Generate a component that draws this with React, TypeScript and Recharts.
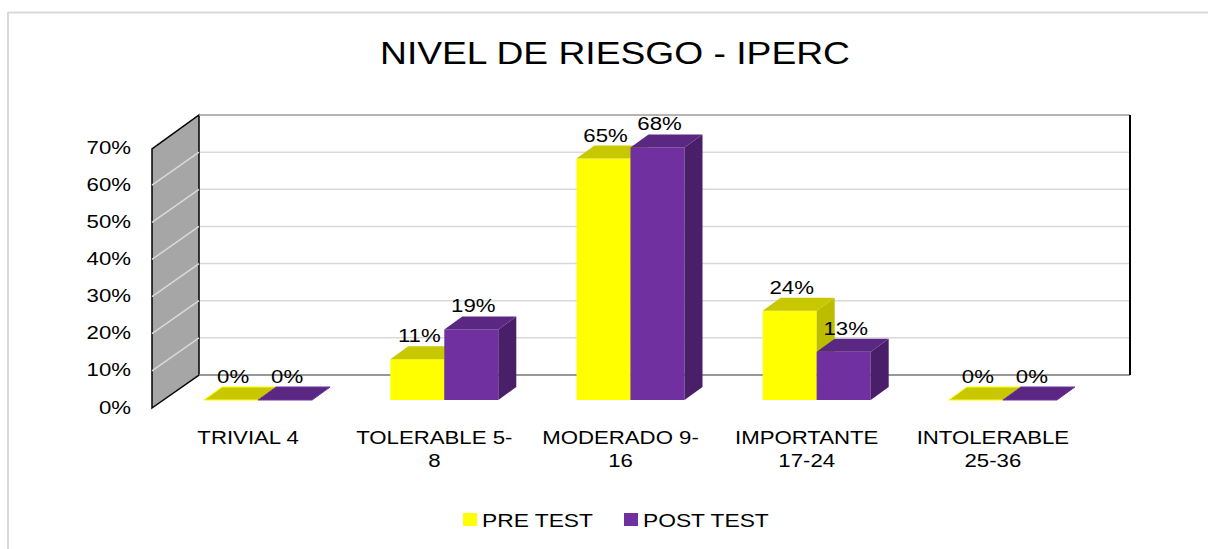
import React from "react";
import { BarChart, Bar, XAxis, YAxis, CartesianGrid, ReferenceArea, Legend } from "recharts";

const categories = ["TRIVIAL 4", "TOLERABLE 5-8", "MODERADO 9-16", "IMPORTANTE 17-24", "INTOLERABLE 25-36"];
const categoryLines = [["TRIVIAL 4"], ["TOLERABLE 5-", "8"], ["MODERADO 9-", "16"], ["IMPORTANTE", "17-24"], ["INTOLERABLE", "25-36"]];
const preTest = [0, 11, 65, 24, 0];
const postTest = [0, 19, 68, 13, 0];
const yTicks = [0, 10, 20, 30, 40, 50, 60, 70];
const seriesNames = ["PRE TEST", "POST TEST"];
const title = "NIVEL DE RIESGO - IPERC";

const data = categories.map((c, i) => ({ name: c, pre: preTest[i], post: postTest[i] }));

const FONT = '"Liberation Sans", Arial, sans-serif';
const SX = 1.2;
const FRONT_DX = -34;
const FRONT_DY = 25;
const BAR_DX = 18;
const BAR_DY = 13;
const WALL_DX = -47;
const WALL_DY = 33;

const YELLOW = { front: "#FFFF00", top: "#C8C800", side: "#BDBD00" };
const PURPLE = { front: "#7030A0", top: "#5A2882", side: "#4A1F6A" };

const STxt = ({ x, y, children, anchor = "middle", size = 18 }: any) => (
  <text
    transform={`translate(${x},${y}) scale(${SX},1)`}
    textAnchor={anchor}
    fontFamily={FONT}
    fontSize={size}
    fill="#000"
  >
    {children}
  </text>
);

const makeShape = (col: any) => (props: any) => {
  const { x, y, width, height, value } = props;
  const w = width;
  const h = Math.max(0, height || 0);
  const fx = x + FRONT_DX;
  const fy = y + FRONT_DY;
  const top = `${fx},${fy} ${fx + w},${fy} ${fx + w + BAR_DX},${fy - BAR_DY} ${fx + BAR_DX},${fy - BAR_DY}`;
  const side = `${fx + w},${fy} ${fx + w + BAR_DX},${fy - BAR_DY} ${fx + w + BAR_DX},${fy + h - BAR_DY} ${fx + w},${fy + h}`;
  return (
    <g>
      {h > 0 && <rect x={fx} y={fy} width={w} height={h} fill={col.front} />}
      {h > 0 && <polygon points={side} fill={col.side} />}
      <polygon points={top} fill={col.top} stroke={h > 0 ? "none" : col.front} strokeWidth={1} />
      <STxt x={fx + w / 2 + 2} y={fy - BAR_DY - 4} size={18.5}>{`${value}%`}</STxt>
    </g>
  );
};

const WallShape = (props: any) => {
  const { x, y, width, height } = props;
  const bottom = y + height;
  const left = `${x + WALL_DX},${bottom + WALL_DY} ${x},${bottom} ${x},${y} ${x + WALL_DX},${y + WALL_DY + 1}`;
  const lines = yTicks.slice(1, -1).map((t) => {
    const ty = bottom - (height * t) / 70;
    return <line key={t} x1={x + WALL_DX} y1={ty + WALL_DY} x2={x} y2={ty} stroke="#D9D9D9" strokeWidth={1.5} />;
  });
  return (
    <g>
      <polygon points={left} fill="#A6A6A6" stroke="#000" strokeWidth={1.5} />
      {lines}
      <line x1={x} y1={y} x2={x + width} y2={y} stroke="#A6A6A6" strokeWidth={1.5} />
      <line x1={x} y1={bottom} x2={x + width} y2={bottom} stroke="#7F7F7F" strokeWidth={1.5} />
      <line x1={x + width} y1={y} x2={x + width} y2={bottom} stroke="#000" strokeWidth={2} />
    </g>
  );
};

const YTick = (props: any) => {
  const { y, payload } = props;
  const cy = y + 32;
  return (
    <text
      transform={`translate(131,${cy + 6.5}) scale(${SX},1)`}
      textAnchor="end"
      fontFamily={FONT}
      fontSize={18.5}
      fill="#000"
    >
      {`${payload.value}%`}
    </text>
  );
};

const XTick = (props: any) => {
  const { x, index } = props;
  const lines = categoryLines[index] || [];
  return (
    <g>
      {lines.map((l, i) => (
        <STxt key={i} x={x - 44} y={444 + i * 23} size={18.5}>{l}</STxt>
      ))}
    </g>
  );
};

const LegendContent = () => (
  <svg width={1208} height={30} style={{ display: "block" }}>
    {seriesNames.map((n, i) => (
      <g key={n}>
        <rect x={463 + i * 161} y={5} width={14} height={13} fill={[YELLOW.front, PURPLE.front][i]} />
        <STxt x={482 + i * 161} y={19} anchor="start" size={19}>{n}</STxt>
      </g>
    ))}
  </svg>
);

export default function App() {
  return (
    <div style={{ position: "fixed", left: 0, top: 0, width: 1208, height: 549, overflow: "hidden", background: "#fff" }}>
      <svg width={1208} height={549} style={{ position: "absolute", left: 0, top: 0, display: "block" }}>
        <line x1={8} y1={12.5} x2={1208} y2={12.5} stroke="#D9D9D9" strokeWidth={2} />
        <line x1={8} y1={12} x2={8} y2={549} stroke="#D9D9D9" strokeWidth={2} />
      </svg>
      <div
        style={{
          position: "absolute",
          left: 0,
          width: 1230,
          top: 38,
          textAlign: "center",
          fontFamily: FONT,
          fontSize: 31,
          lineHeight: "31px",
          transform: `scaleX(${SX})`,
          transformOrigin: "615px 0",
          color: "#000",
        }}
      >
        {title}
      </div>
      <div style={{ position: "absolute", left: 0, top: 0 }}>
        <BarChart
          width={1208}
          height={549}
          data={data}
          margin={{ top: 115, right: 78, bottom: 114, left: 139 }}
          barCategoryGap="21%"
          barGap={0}
        >
          <ReferenceArea y1={0} y2={70} shape={<WallShape />} ifOverflow="visible" />
          <CartesianGrid horizontal vertical={false} stroke="#D9D9D9" strokeWidth={1.5} />
          <XAxis dataKey="name" axisLine={false} tickLine={false} height={30} interval={0} tick={<XTick />} />
          <YAxis
            domain={[0, 70]}
            ticks={yTicks}
            axisLine={false}
            tickLine={false}
            width={60}
            tick={<YTick />}
            interval={0}
          />
          <Legend
            content={<LegendContent />}
            wrapperStyle={{ position: "absolute", top: 508, left: 0, width: 1208, height: 30 }}
          />
          <Bar dataKey="pre" name={seriesNames[0]} fill={YELLOW.front} shape={makeShape(YELLOW)} isAnimationActive={false} />
          <Bar dataKey="post" name={seriesNames[1]} fill={PURPLE.front} shape={makeShape(PURPLE)} isAnimationActive={false} />
        </BarChart>
      </div>
    </div>
  );
}
